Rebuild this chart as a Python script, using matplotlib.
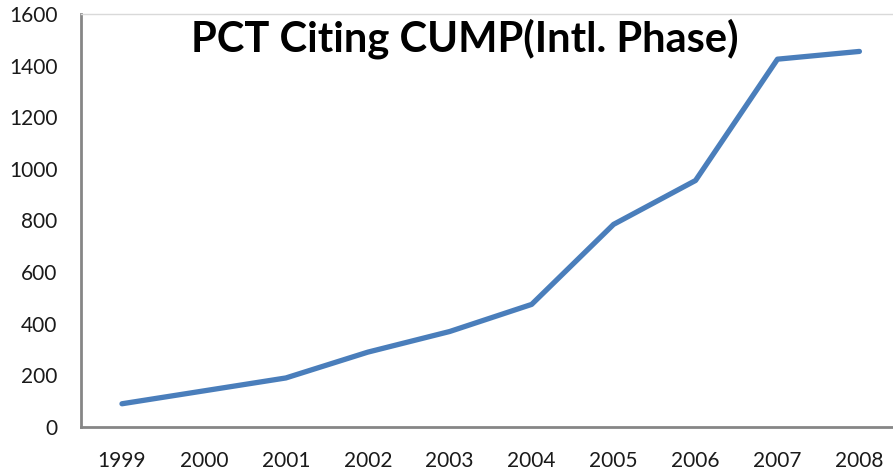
import matplotlib.pyplot as plt
import numpy as np

# chart data
years = ['1999', '2000', '2001', '2002', '2003', '2004', '2005', '2006', '2007', '2008']
citations = [90, 140, 190, 290, 370, 475, 785, 955, 1425, 1455]
yticks = [0, 200, 400, 600, 800, 1000, 1200, 1400, 1600]

plt.rcParams['font.family'] = ['Lato', 'DejaVu Sans']

fig = plt.figure(figsize=(8.93, 4.71), dpi=100)
ax = fig.add_axes([81 / 893, 1 - 427 / 471, 1 - 81 / 893, (427 - 14) / 471])

x = np.arange(len(years))
ax.plot(x, citations, color='#4A7EBB', lw=3.8, solid_capstyle='round', solid_joinstyle='round')

ax.set_xlim(-0.5, 9.41)
ax.set_ylim(0, 1600)
ax.set_xticks(x)
ax.set_xticklabels(years)
ax.set_yticks(yticks)

ax.tick_params(axis='both', length=0, labelsize=15, colors='#1a1a1a')
ax.tick_params(axis='y', pad=17)
ax.tick_params(axis='x', pad=17)

for side in ('left', 'bottom'):
    ax.spines[side].set_color('#868686')
    ax.spines[side].set_linewidth(2)
ax.spines['top'].set_color('#d9d9d9')
ax.spines['top'].set_linewidth(1)
ax.spines['right'].set_visible(False)

ax.text(0.473, 0.99, 'PCT Citing CUMP(Intl. Phase)', transform=ax.transAxes,
        ha='center', va='top', fontsize=30, fontweight='bold', color='black')

fig.savefig('out.png', dpi=100)
